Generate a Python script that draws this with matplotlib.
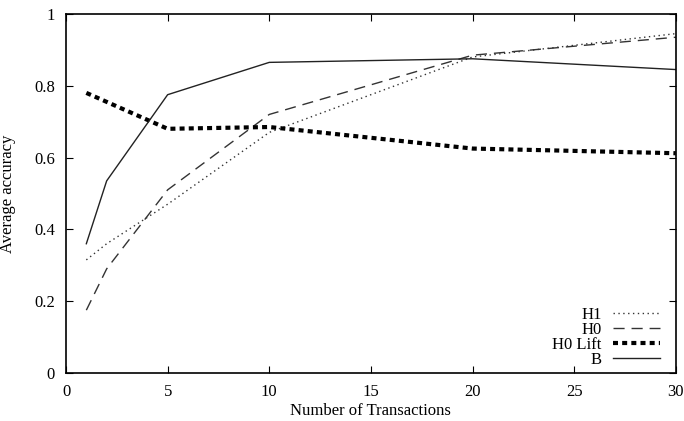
import matplotlib
matplotlib.use('Agg')
import matplotlib.pyplot as plt

plt.rcParams['font.family'] = ['Liberation Serif', 'DejaVu Serif']

# number of transactions
x = [1, 2, 5, 10, 20, 30]

h1 = [0.315, 0.36, 0.47, 0.67, 0.88, 0.945]
h0 = [0.175, 0.29, 0.51, 0.72, 0.885, 0.935]
h0_lift = [0.78, 0.755, 0.68, 0.685, 0.625, 0.612]
b = [0.36, 0.535, 0.775, 0.865, 0.875, 0.845]

fig = plt.figure(figsize=(6.84, 4.21), dpi=100)
ax = fig.add_axes([0.0965, 0.114, 0.8915, 0.853])

ax.plot(x, h1, color='#333333', lw=1.0, linestyle=(0, (1, 2.5)), label='H1')
ax.plot(x, h0, color='#333333', lw=1.0, linestyle=(0, (8, 5)), label='H0')
ax.plot(x, h0_lift, color='black', lw=3.0, linestyle=(0, (1.2, 1.0)), label='H0 Lift')
ax.plot(x, b, color='#222222', lw=1.0, label='B')

ax.set_xlim(0, 30)
ax.set_ylim(0, 1)
ax.set_xticks([0, 5, 10, 15, 20, 25, 30])
ax.set_yticks([0, 0.2, 0.4, 0.6, 0.8, 1])
ax.set_yticklabels(['0', '0.2', '0.4', '0.6', '0.8', '1'])
ax.tick_params(direction='in', top=True, right=True, length=5, labelsize=12, pad=8)
for s in ax.spines.values():
    s.set_linewidth(1.2)

ax.set_xlabel('Number of Transactions', fontsize=12, labelpad=2)
ax.set_ylabel('Average accuracy', fontsize=12, labelpad=13)

ax.legend(loc='lower right', frameon=False, markerfirst=False, fontsize=12,
          handlelength=2.8, labelspacing=-0.05, handletextpad=0.7,
          borderaxespad=0.0, bbox_to_anchor=(0.985, -0.005))

fig.savefig('out.png', dpi=100)
